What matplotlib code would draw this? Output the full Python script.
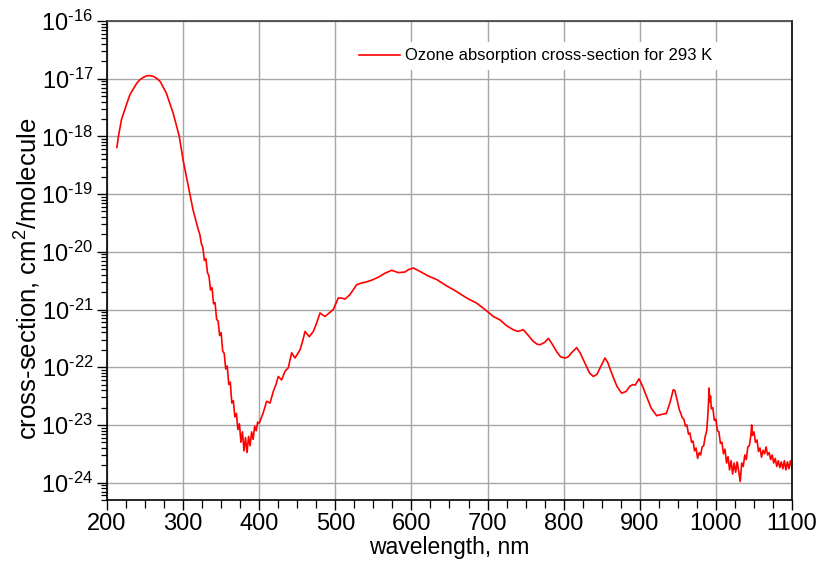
import numpy as np
import matplotlib
matplotlib.use("Agg")
import matplotlib.pyplot as plt
from matplotlib.ticker import FixedLocator, MultipleLocator, NullFormatter

plt.rcParams['font.family'] = ['Liberation Sans', 'DejaVu Sans']
plt.rcParams['mathtext.fontset'] = 'custom'
plt.rcParams['mathtext.rm'] = 'Liberation Sans'
plt.rcParams['mathtext.it'] = 'Liberation Sans:italic'

# Hartley band (smooth part)
wl_uv = [213, 215, 219, 224, 230, 239, 243, 248, 251, 254, 257, 261, 265,
         270, 278, 287, 295, 300, 307, 313, 318]
lg_uv = [-18.19, -18.00, -17.71, -17.51, -17.28, -17.08, -17.02, -16.975,
         -16.955, -16.947, -16.948, -16.96, -16.99, -17.05, -17.25, -17.60,
         -18.00, -18.41, -18.87, -19.27, -19.52]

# Huggins band edge (noisy)
wl_hug = [320, 322, 324, 326, 328, 330, 332, 334, 336, 338, 340, 342, 344,
          346, 348, 350, 352, 354, 356, 358, 360, 362, 364, 366, 368, 370,
          372, 374, 376, 378, 380, 382, 384, 386, 388, 390, 392, 394, 396,
          398, 400]
lg_hug = [-19.62, -19.70, -19.86, -19.93, -20.15, -20.12, -20.36, -20.42,
          -20.66, -20.62, -20.90, -20.88, -21.17, -21.20, -21.45, -21.40,
          -21.72, -21.76, -22.03, -21.98, -22.30, -22.26, -22.62, -22.58,
          -22.86, -22.80, -23.08, -22.98, -23.30, -23.12, -23.45, -23.22,
          -23.48, -23.20, -23.36, -23.12, -23.25, -23.02, -23.10, -22.95,
          -22.97]

# Chappuis band and Wulf bands
wl_vis = [405, 409.8, 414.2, 418.5, 422, 425.1, 429.5, 433.9, 438.2, 442.6,
          447, 453.6, 457, 460.2, 465.8, 471.1, 475, 479.9, 483, 486.4, 492,
          497.3, 503.9, 508, 512.7, 519.3, 528, 534.6, 541.1, 548, 556.4,
          565.3, 574.1, 582.8, 591.5, 596, 602.5, 611.3, 622.2, 633.2, 646.3,
          659.5, 672.6, 685.8, 696.7, 707.6, 716.4, 725, 733.8, 740, 747, 753,
          760, 765, 769, 775, 780, 785, 790.8, 796, 801.8, 806, 811, 817.1,
          822, 828, 834, 839, 844, 849, 854.3, 858, 863, 870, 876.2, 882, 887,
          891, 894, 899, 904, 909, 915, 922.2, 928, 935, 940, 944, 946, 950,
          952]
lg_vis = [-22.80, -22.59, -22.62, -22.42, -22.30, -22.16, -22.22, -22.07,
          -22.01, -21.75, -21.84, -21.70, -21.55, -21.38, -21.47, -21.38,
          -21.25, -21.06, -21.09, -21.12, -21.06, -21.00, -20.80, -20.80,
          -20.82, -20.74, -20.57, -20.54, -20.52, -20.49, -20.44, -20.37,
          -20.32, -20.36, -20.35, -20.31, -20.28, -20.34, -20.42, -20.48,
          -20.59, -20.69, -20.80, -20.89, -21.00, -21.12, -21.18, -21.28,
          -21.35, -21.38, -21.35, -21.44, -21.55, -21.60, -21.61, -21.57,
          -21.50, -21.60, -21.73, -21.82, -21.84, -21.82, -21.74, -21.66,
          -21.76, -21.93, -22.10, -22.16, -22.12, -21.98, -21.84, -21.92,
          -22.10, -22.33, -22.45, -22.42, -22.33, -22.30, -22.31, -22.20,
          -22.34, -22.51, -22.71, -22.84, -22.82, -22.80, -22.60, -22.39,
          -22.40, -22.62, -22.74]

# near IR (noisy)
wl_ir = [954, 956, 958, 960, 962, 964, 966, 968, 970, 972, 974, 976, 978,
         980, 982, 984, 986, 988, 990, 991, 992, 993, 994, 996, 998, 1000,
         1002, 1004, 1006, 1008, 1010, 1012, 1014, 1016, 1018, 1020, 1022,
         1024, 1026, 1028, 1030, 1032, 1034, 1036, 1038, 1040, 1042, 1044,
         1046, 1047, 1048, 1050, 1052, 1054, 1056, 1058, 1060, 1062, 1064,
         1066, 1068, 1070, 1072, 1074, 1076, 1078, 1080, 1082, 1084, 1086,
         1088, 1090, 1092, 1094, 1096, 1098, 1100]
lg_ir = [-22.80, -22.88, -22.90, -23.02, -23.00, -23.16, -23.14, -23.30,
         -23.28, -23.45, -23.40, -23.58, -23.48, -23.52, -23.38, -23.36,
         -23.20, -23.10, -22.72, -22.36, -22.60, -22.50, -22.72, -22.70,
         -22.92, -22.90, -23.10, -23.12, -23.32, -23.30, -23.50, -23.42,
         -23.66, -23.55, -23.78, -23.62, -23.85, -23.66, -23.82, -23.64,
         -23.80, -23.98, -23.66, -23.72, -23.52, -23.60, -23.38, -23.36,
         -23.18, -23.00, -23.18, -23.12, -23.30, -23.26, -23.46, -23.40,
         -23.56, -23.44, -23.50, -23.38, -23.52, -23.48, -23.60, -23.52,
         -23.66, -23.58, -23.72, -23.62, -23.74, -23.64, -23.76, -23.62,
         -23.78, -23.64, -23.76, -23.62, -23.74]

y_exps = [-24, -23, -22, -21, -20, -19, -18, -17, -16]

wl = np.array(wl_uv + wl_hug + wl_vis + wl_ir, dtype=float)
sigma = 10.0 ** np.array(lg_uv + lg_hug + lg_vis + lg_ir)

fig = plt.figure(figsize=(8.23, 5.62), dpi=100)
ax = fig.add_axes([0.130, 0.1103, 0.8323, 0.8523])

ax.plot(wl, sigma, color='#ff0000', lw=1.2,
        label='Ozone absorption cross-section for 293 K')

ax.set_yscale('log')
ax.set_xlim(200, 1100)

ax.xaxis.set_major_locator(MultipleLocator(100))
ax.xaxis.set_minor_locator(MultipleLocator(25))
ax.set_yticks([10.0 ** e for e in y_exps])
# hyphen instead of minus, as in the original
ax.set_yticklabels(['$10^{\u2010%d}$' % abs(e) for e in y_exps])
minor_y = [m * 10.0 ** e for e in range(-25, -16) for m in range(2, 10)]
ax.yaxis.set_minor_locator(FixedLocator([v for v in minor_y if 5e-25 <= v <= 1e-16]))
ax.yaxis.set_minor_formatter(NullFormatter())
ax.set_ylim(5e-25, 1e-16)

ax.grid(True, which='major', color='#a6a6a6', lw=1.0)
ax.set_axisbelow(True)

ax.tick_params(which='major', direction='out', length=7, width=1.0,
               color='black')
ax.tick_params(axis='x', which='major', labelsize=17, pad=2)
ax.tick_params(axis='y', which='major', labelsize=17, pad=3)
ax.tick_params(which='minor', direction='out', length=4, width=0.9, color='black')
ax.tick_params(axis='x', which='minor', length=6)

for s in ax.spines.values():
    s.set_linewidth(1.2)
    s.set_color('black')
ax.spines['top'].set_color('#404040')

ax.set_xlabel('wavelength, nm', fontsize=16.5)
ax.set_ylabel('cross-section, cm$^2$/molecule', fontsize=18.5)
ax.xaxis.set_label_coords(0.5, -0.076)
ax.yaxis.set_label_coords(-0.093, 0.461)

leg = ax.legend(loc='center left', bbox_to_anchor=(0.358, 0.927),
                fontsize=12, frameon=True, fancybox=False, borderpad=0.4,
                borderaxespad=0, handlelength=2.46, handletextpad=0.3)
leg.get_frame().set_edgecolor('none')
leg.get_frame().set_facecolor('white')
leg.get_frame().set_alpha(1.0)

fig.savefig('out.png', dpi=100)
